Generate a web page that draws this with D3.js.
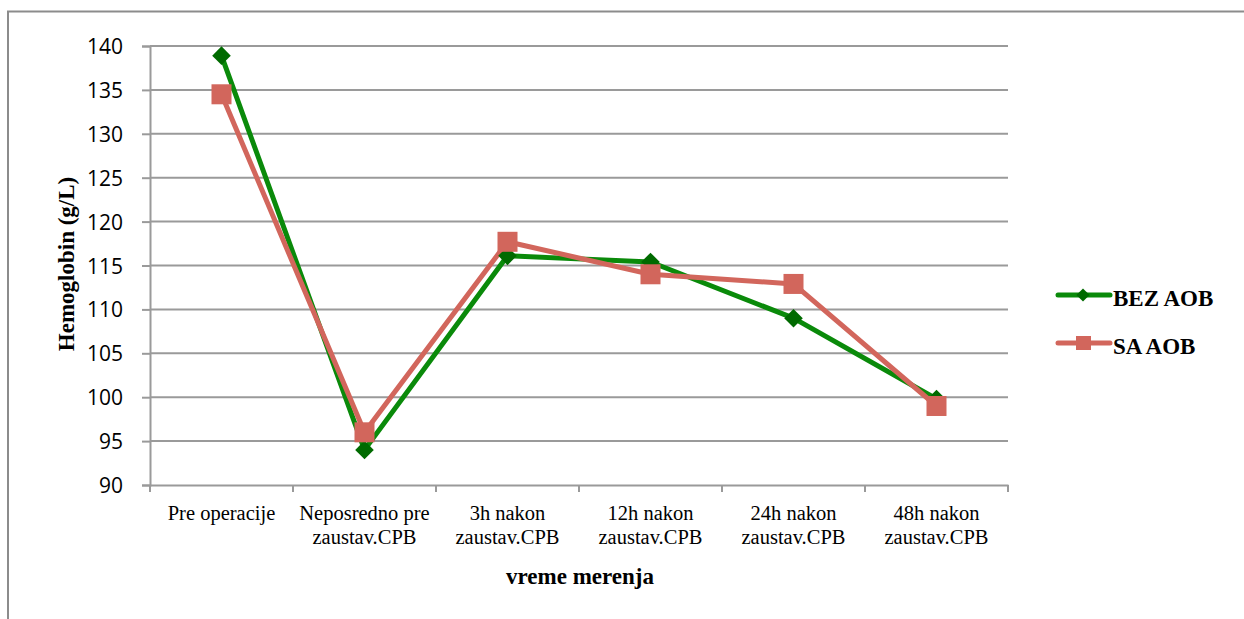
<!DOCTYPE html>
<html><head><meta charset="utf-8">
<script src="https://cdn.jsdelivr.net/npm/d3@7"></script>
<style>body{margin:0;background:#fff}
.serif{font-family:"Liberation Serif","Times New Roman",Times,"DejaVu Serif",serif}
.sans{font-family:"Open Sans","Noto Sans",sans-serif}
</style>
</head><body>
<svg id="c" width="1244" height="619"></svg>
<script>
const categories = [["Pre operacije"],["Neposredno pre","zaustav.CPB"],["3h nakon","zaustav.CPB"],["12h nakon","zaustav.CPB"],["24h nakon","zaustav.CPB"],["48h nakon","zaustav.CPB"]];
const bezAOB = [138.9, 94.0, 116.1, 115.4, 109.0, 99.8];
const saAOB = [134.5, 96.0, 117.7, 114.0, 112.9, 99.0];
const yTicks = [90,95,100,105,110,115,120,125,130,135,140];
const seriesNames = ["BEZ AOB","SA AOB"];

const svg = d3.select("#c");
const L=150, R=1008, T=46, B=485;
const x = d3.scaleBand().domain(d3.range(categories.length)).range([L,R]);
const y = d3.scaleLinear().domain([90,140]).range([B,T]);

svg.append("path").attr("d","M8,619 V11.5 H1244").attr("fill","none").attr("stroke","#8c8c8c").attr("stroke-width",2);

svg.append("g").selectAll("line").data(yTicks.filter(d=>d>90)).join("line")
 .attr("x1",L).attr("x2",R).attr("y1",d=>y(d)).attr("y2",d=>y(d))
 .attr("stroke","#9a9a9a").attr("stroke-width",2);

const ya = svg.append("g").attr("transform",`translate(${L},0)`).call(d3.axisLeft(y).tickValues(yTicks).tickSize(8).tickPadding(19));
ya.attr("font-family",null).attr("font-size",null).attr("class","sans");
ya.select(".domain").attr("stroke","#9a9a9a").attr("stroke-width",2);
ya.selectAll(".tick line").attr("stroke","#9a9a9a").attr("stroke-width",2);
ya.selectAll("text").attr("class","sans").attr("font-size",21).attr("fill","#000").attr("dy","0.36em");

const xa = svg.append("g").attr("transform",`translate(0,${B})`).call(d3.axisBottom(x).tickSize(0).tickFormat(""));
xa.select(".domain").attr("stroke","#9a9a9a").attr("stroke-width",2);
const edges = d3.range(categories.length+1).map(i=>L+i*x.step());
svg.append("g").selectAll("line").data(edges).join("line")
 .attr("x1",d=>d).attr("x2",d=>d).attr("y1",B).attr("y2",B+7).attr("stroke","#9a9a9a").attr("stroke-width",2);

const cl = svg.append("g").selectAll("text").data(categories).join("text")
 .attr("class","serif")
 .attr("x",(d,i)=>x(i)+x.bandwidth()/2).attr("y",520)
 .attr("text-anchor","middle").attr("font-size",20.5).attr("fill","#000");
cl.selectAll("tspan").data(d=>d).join("tspan").attr("x",function(){return this.parentNode.getAttribute("x");})
 .attr("dy",(d,i)=>i?23.5:0).text(d=>d);

svg.append("text").attr("class","serif").attr("x",580).attr("y",584).attr("text-anchor","middle").attr("font-weight","bold").attr("font-size",23).text("vreme merenja");
svg.append("text").attr("class","serif").attr("transform","translate(74,264) rotate(-90)").attr("text-anchor","middle").attr("font-weight","bold").attr("font-size",23).text("Hemoglobin (g/L)");

const cx = i=>x(i)+x.bandwidth()/2;
const line = d3.line().x((d,i)=>cx(i)).y(d=>y(d));
const green="#0a8a0a", greenM="#006a00", red="#d2665c";

svg.append("path").datum(bezAOB).attr("d",line).attr("fill","none").attr("stroke",green).attr("stroke-width",5).attr("stroke-linejoin","round");
svg.append("path").datum(saAOB).attr("d",line).attr("fill","none").attr("stroke",red).attr("stroke-width",5).attr("stroke-linejoin","round");

const diamond = d3.symbol().type(d3.symbolDiamond2).size(220);
svg.append("g").selectAll("path").data(bezAOB).join("path")
 .attr("transform",(d,i)=>`translate(${cx(i)},${y(d)})`).attr("d",diamond).attr("fill",greenM);
svg.append("g").selectAll("rect").data(saAOB).join("rect")
 .attr("x",(d,i)=>cx(i)-10).attr("y",d=>y(d)-10).attr("width",20).attr("height",20).attr("fill",red);

const lg = svg.append("g");
const ly=[295,343];
[[green,greenM,"d"],[red,red,"s"]].forEach((c,k)=>{
  lg.append("line").attr("x1",1058).attr("x2",1110).attr("y1",ly[k]).attr("y2",ly[k]).attr("stroke",c[0]).attr("stroke-width",5).attr("stroke-linecap","round");
  if(c[2]==="d") lg.append("path").attr("transform",`translate(1083,${ly[k]})`).attr("d",d3.symbol().type(d3.symbolDiamond2).size(110)).attr("fill",c[1]);
  else lg.append("rect").attr("x",1076).attr("y",ly[k]-7).attr("width",15).attr("height",14).attr("fill",c[1]);
  lg.append("text").attr("class","serif").attr("x",1113).attr("y",ly[k]+11).attr("font-weight","bold").attr("font-size",23).attr("letter-spacing","0").text(seriesNames[k]);
});
</script>
</body></html>
